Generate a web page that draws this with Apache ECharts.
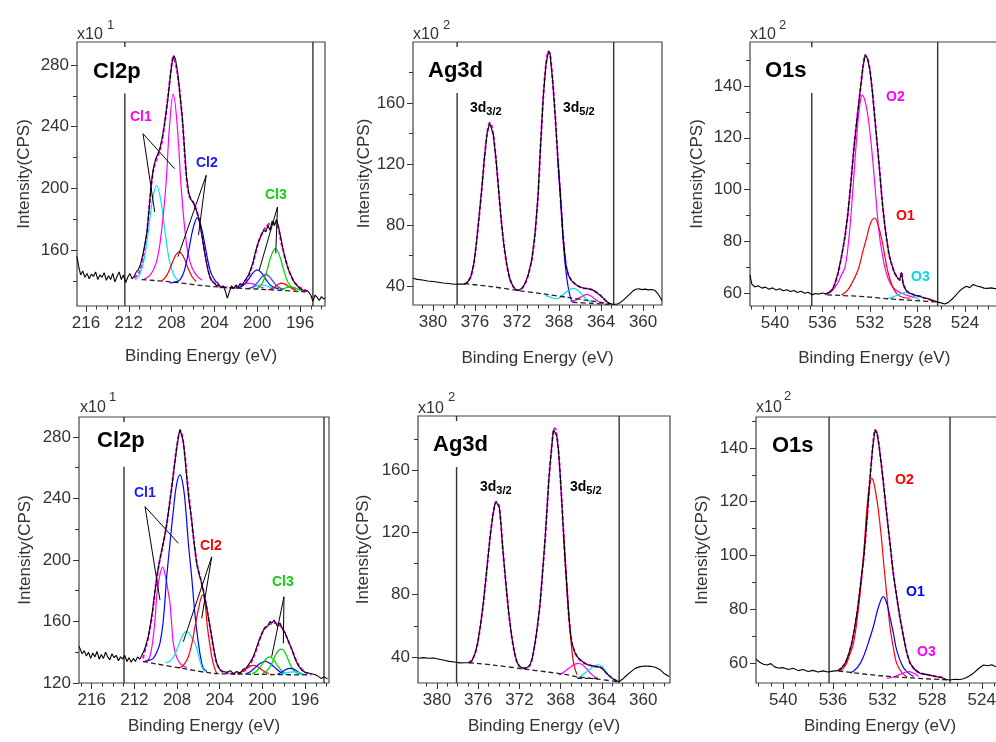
<!DOCTYPE html>
<html>
<head>
<meta charset="utf-8">
<script src="https://cdn.jsdelivr.net/npm/echarts@6/dist/echarts.min.js"></script>
<style>
html, body { margin: 0; padding: 0; background: #fff; }
#chart { width: 996px; height: 742px; }
</style>
</head>
<body>
<div id="chart"></div>
<script>
const MAG = '#ff00ff', CYA = '#00e5ee', RED = '#ff0000', BLU = '#0000ff', GRN = '#00d000'
const FONT = 'Liberation Sans, Arial, sans-serif'

// tick values
const clXMajor = [196, 200, 204, 208, 212, 216]
const clXMinor = [194, 195, 196, 197, 198, 199, 200, 201, 202, 203, 204, 205, 206, 207, 208, 209, 210, 211, 212, 213, 214, 215, 216, 217]
const agXMajor = [360, 364, 368, 372, 376, 380]
const agXMinor = [358, 359, 360, 361, 362, 363, 364, 365, 366, 367, 368, 369, 370, 371, 372, 373, 374, 375, 376, 377, 378, 379, 380, 381]
const oXMajor = [524, 528, 532, 536, 540]
const oXMinor = [521, 522, 523, 524, 525, 526, 527, 528, 529, 530, 531, 532, 533, 534, 535, 536, 537, 538, 539, 540, 541, 542]
const clTopYMajor = [160, 200, 240, 280]
const clBotYMajor = [120, 160, 200, 240, 280]
const clYMinor = [140, 180, 220, 260]
const agYMajor = [40, 80, 120, 160]
const agYMinor = [60, 100, 140, 180]
const oYMajor = [60, 80, 100, 120, 140]
const oYMinor = [70, 90, 110, 130, 150]

// ---- top row, Cl2p ----
const clTopRaw = [[216.84,156],[216.7,150],[216.5,144],[216.3,146.5],[216.1,142.5],[215.9,145],[215.7,141.5],[215.5,144.5],[215.3,143],[215.1,146],[214.9,141],[214.7,144],[214.5,142.5],[214.3,145.5],[214.1,140.5],[213.9,143.5],[213.7,141],[213.5,145],[213.3,139.5],[213.1,143],[212.9,146],[212.7,141],[212.5,144],[212.3,139],[212.1,142.5],[211.9,145],[211.7,141.5],[211.5,143],[211.3,146],[211.1,147.5],[210.9,151],[210.7,157],[210.5,164],[210.3,172],[210.1,187],[209.9,203],[209.7,213],[209.5,219],[209.3,222],[209.1,226],[208.9,232],[208.7,240],[208.5,250],[208.3,261],[208.1,274],[207.95,282],[207.8,286],[207.65,284],[207.5,278],[207.35,270],[207.2,259],[207.0,246],[206.8,226],[206.6,207],[206.4,197],[206.2,193],[206.0,191],[205.8,188],[205.6,184],[205.4,179],[205.2,171],[205.0,162],[204.8,154],[204.6,147],[204.4,142],[204.2,140],[204.0,138.5],[203.8,137],[203.6,138],[203.4,135.5],[203.2,137],[203.0,134],[202.8,129],[202.6,133],[202.4,137],[202.2,135],[202.0,137.5],[201.8,136],[201.6,138.5],[201.4,137],[201.2,140],[201.0,142],[200.8,144],[200.6,148],[200.4,152],[200.2,158],[200.0,163],[199.8,167],[199.6,170],[199.4,173],[199.2,172],[199.0,176],[198.8,173],[198.6,179],[198.4,176],[198.2,180],[198.0,175],[197.8,168],[197.6,161],[197.4,155],[197.2,150],[197.0,146],[196.8,143],[196.6,140],[196.4,138],[196.2,136.5],[196.0,135],[195.8,134.5],[195.6,133.5],[195.4,134],[195.2,133],[195.0,131],[194.8,127],[194.6,131],[194.4,129.5],[194.2,127.5],[194.0,130],[193.8,128.5],[193.67,129]]
const clTopFit = [[211.5,142],[211.0,146],[210.6,157],[210.3,172],[210.0,195],[209.7,212],[209.3,221],[209.0,227],[208.65,242],[208.35,259],[208.05,277],[207.85,285],[207.55,278],[207.25,263],[206.95,240],[206.65,210],[206.35,195],[205.9,190],[205.4,179],[205.1,167],[204.75,153],[204.3,141],[203.6,137],[203.0,136],[202.4,135.5],[201.8,136],[201.1,140],[200.5,149],[199.9,165],[199.3,174],[198.7,177.5],[198.2,177],[197.7,163],[197.1,148],[196.5,139],[195.8,135],[195.2,133]]
const clTopBase = [[210.8,141],[208,139.5],[205,137],[202,135.5],[199,134.5],[195.5,133]]
const clTopCl1a = [[210.55,141.3],[209.95,144.4],[209.45,151.7],[209.05,166.2],[208.55,200.3],[208.2,240],[207.85,261],[207.5,242.8],[207.1,200.3],[206.65,166.2],[206.25,151.7],[205.75,144.4],[205.15,140.5]]
const clTopCl1b = [[211.4,140.8],[211.0,144],[210.6,153],[210.2,171],[209.8,192],[209.4,202],[209.0,192],[208.6,171],[208.2,153],[207.8,144],[207.4,140.5]]
const clTopCl2a = [[208.9,140.2],[208.5,143.2],[208.1,149],[207.7,155.8],[207.3,159],[206.9,155.8],[206.5,149],[206.1,143],[205.7,139.8]]
const clTopCl2b = [[208.2,138.8],[207.6,139.5],[207.2,141],[206.8,147],[206.4,160],[206.0,174],[205.6,181],[205.2,174],[204.8,160],[204.4,147],[204.0,141],[203.6,138.3]]
const clTopBlue1 = [[202.0,135.6],[201.6,136.1],[201.2,137.9],[200.8,141.4],[200.4,145.4],[200.0,147.3],[199.6,145.3],[199.2,141.2],[198.8,137.6],[198.4,135.8],[198.0,135.2]]
const clTopBlue2 = [[200.95,135.1],[200.6,135.6],[200.25,137.0],[199.9,139.7],[199.55,142.9],[199.2,144.4],[198.85,142.8],[198.5,139.6],[198.15,136.8],[197.8,135.3],[197.45,134.8]]
const clTopGreen = [[200.2,134.9],[199.8,136.2],[199.43,140.1],[199.05,147.8],[198.68,156.8],[198.3,161],[197.93,156.7],[197.55,147.7],[197.18,140],[196.8,136],[196.43,134.6]]
const clTopRed = [[199.0,134.4],[198.68,135.1],[198.35,136.4],[198.03,138.0],[197.7,138.7],[197.38,137.9],[197.05,136.4],[196.73,135.1],[196.4,134.3]]
const clTopCyan = [[200.8,135.2],[200.3,136.3],[199.95,137.2],[199.6,137.6],[199.25,137.2],[198.9,136.3],[198.4,135.0]]
const clTopGreen2 = [[198.0,134.0],[197.5,135.1],[197.2,136.0],[196.9,136.3],[196.6,136.0],[196.3,135.0],[195.8,133.8]]
const clTopMag = [[202.2,135.9],[201.6,137.0],[201.2,138.2],[200.8,138.7],[200.4,138.2],[200.0,137.0],[199.4,135.5]]
const clTopLeads = [
  [[209.58,184.8],[210.67,235.4],[207.72,212.8]],
  [[207.41,155.8],[204.77,208.5],[205.49,169.8]],
  [[199.81,147.2],[198.11,188],[198.27,158]]
]
const clTopV = [[212.37,261.4,123.9],[212.37,294.8,291.6],[194.8,294.8,123.9]]

// ---- top row, Ag3d ----
const agTopRaw = [[381.9,45],[381.5,44.3],[381.0,43.9],[380.5,43.2],[380.0,42.9],[379.5,42.4],[379.0,41.9],[378.5,41.6],[378.0,41.1],[377.5,41.3],[377.0,41.2],[376.7,42.5],[376.4,46],[376.1,55],[375.85,69],[375.6,86],[375.35,104],[375.1,124],[374.85,140],[374.6,147],[374.45,146],[374.25,139],[374.0,123],[373.75,103],[373.5,83],[373.25,67],[373.0,55],[372.7,45],[372.4,40],[372.1,37.5],[371.8,37.2],[371.5,38.6],[371.2,42],[370.9,48],[370.6,57],[370.3,73],[370.0,99],[369.75,133],[369.5,164],[369.25,185],[369.0,194],[368.85,192],[368.6,174],[368.35,150],[368.1,122],[367.85,97],[367.6,71],[367.35,54],[367.1,47],[366.8,43.5],[366.5,41.5],[366.2,40],[365.9,39],[365.6,38.5],[365.3,38.2],[365.0,37.8],[364.7,37],[364.4,35.5],[364.1,34],[363.8,32],[363.5,30],[363.2,28.5],[362.9,28],[362.5,28],[362.2,29],[361.9,30.5],[361.6,32.5],[361.3,34.5],[361.0,36.5],[360.7,37.8],[360.4,38.2],[360.1,37.6],[359.8,37.9],[359.5,37.4],[359.2,37.7],[358.9,37.2],[358.6,35],[358.2,30.5]]
const agTopBase = [[377,41.5],[374.5,39.6],[371.7,36.8],[369.5,34.8],[367.2,32.5],[365,30.2],[363,28.2]]
const agTopBase2 = [[366.7,29.3],[365,28.6],[363.2,27.9]]
const agTopBlue = [[368.1,122],[367.85,97],[367.6,70],[367.35,50],[367.1,38],[366.9,32],[366.7,29.3]]
const agTopCyan = [[369.3,33.8],[368.9,32.8],[368.5,31.8],[368.2,31.6],[367.8,33],[367.4,35.5],[367.0,37.5],[366.65,38.4],[366.3,37.5],[365.9,35],[365.5,32],[365.1,30],[364.7,29.2]]
const agTopMag = [[366.9,29.8],[366.5,30.5],[366.1,32],[365.7,33.6],[365.35,34.5],[365.0,33.5],[364.6,31.5],[364.2,29.5],[363.8,28.3]]
const agTopV = [[377.7,166.5,27.5],[377.7,200,196.7],[362.8,200,27.5]]

// ---- top row, O1s ----
const oTopRaw = [[542.1,67],[541.95,63.5],[541.7,62.4],[541.4,62.8],[541.1,61.9],[540.8,62.3],[540.5,61.5],[540.2,62],[539.9,61.2],[539.6,61.7],[539.3,60.9],[539.0,61.3],[538.7,60.6],[538.4,61],[538.1,60.2],[537.8,60.7],[537.5,59.9],[537.2,60.3],[536.9,59.3],[536.6,59.8],[536.3,59.6],[536.0,60],[535.7,59.7],[535.4,60.4],[535.15,61.5],[534.95,63.7],[534.7,67.5],[534.4,74],[534.1,82],[533.85,91],[533.6,103],[533.35,116],[533.1,127],[532.85,137],[532.6,147],[532.4,152],[532.2,150.5],[532.0,146],[531.8,138],[531.6,128],[531.4,118],[531.2,108],[531.0,97],[530.8,88],[530.6,81],[530.4,75],[530.2,71.5],[529.95,68],[529.7,66],[529.5,65],[529.35,68],[529.2,63.5],[528.95,61],[528.7,60],[528.4,59.5],[528.1,59],[527.8,58.8],[527.5,58.2],[527.2,57.9],[526.9,57.4],[526.6,57],[526.3,56.5],[526.0,56.2],[525.7,55.8],[525.4,56.4],[525.1,57.6],[524.8,59],[524.5,60.6],[524.2,61.8],[523.9,62.6],[523.6,62.1],[523.3,63.3],[523.0,62.7],[522.7,62.4],[522.4,61.9],[522.1,61.8],[521.8,62],[521.5,61.7],[521.2,61.9],[520.9,61.5]]
const oTopBase = [[535.6,59.3],[532.4,58.6],[530.5,57.8],[526.4,56.6]]
const oTopO2 = [[535.8,59.3],[535.2,60.8],[534.7,64],[534.4,67],[534.1,70],[533.8,80],[533.55,93],[533.3,109],[533.1,121],[532.9,131],[532.65,136.5],[532.4,134],[532.1,126],[531.8,113],[531.5,97],[531.25,84],[531.0,76],[530.75,70],[530.5,66],[530.2,63],[529.9,61.5],[529.4,60],[528.8,59],[528.2,58.3]]
const oTopO1 = [[534.4,59.2],[533.9,61],[533.5,64],[533.0,69],[532.6,76],[532.3,81],[531.95,87],[531.6,89],[531.3,86],[531.0,80.5],[530.7,73],[530.45,67.5],[530.1,62.5],[529.7,59.5],[529.2,58.3],[528.6,58]]
const oTopO3 = [[530.5,57.9],[530.0,58.6],[529.5,59.6],[529.0,60.3],[528.6,59.8],[528.2,58.5],[527.8,57.3]]
const oTopV = [[536.9,137.3,55],[536.9,157,155],[526.3,157,55]]

// ---- bottom row, Cl2p ----
const clBotRaw = [[217.19,144],[216.9,139],[216.7,141],[216.5,137.5],[216.3,140],[216.1,136],[215.9,139.5],[215.7,137],[215.5,140.5],[215.3,135.5],[215.1,138.5],[214.9,136],[214.7,140],[214.5,137],[214.3,135],[214.1,139],[213.9,136.5],[213.7,138],[213.5,134.5],[213.3,137],[213.1,135.5],[212.9,138],[212.7,134],[212.5,136.5],[212.3,133.5],[212.1,136],[211.9,134],[211.7,137],[211.5,135.5],[211.3,138],[211.1,141],[210.9,145],[210.7,150],[210.5,158],[210.3,167],[210.1,178],[209.9,189],[209.7,197],[209.45,206],[209.2,214],[208.97,223],[208.75,234],[208.5,247],[208.25,261],[208.03,273],[207.85,281],[207.72,285],[207.6,282],[207.41,277],[207.25,266],[207.1,254],[206.9,240],[206.63,226],[206.4,211],[206.16,198],[205.9,190],[205.69,185],[205.45,177],[205.22,169],[205.0,160],[204.75,150],[204.5,140],[204.28,133],[204.0,129],[203.7,127.5],[203.35,127],[203.0,128],[202.7,126],[202.4,127.5],[202.1,126.3],[201.8,129],[201.5,130],[201.2,133],[200.85,137],[200.6,142],[200.3,148],[200.05,152],[199.8,156],[199.5,157],[199.3,160],[199.1,159],[198.9,161],[198.6,157],[198.35,159],[198.1,155],[197.9,153],[197.72,150],[197.5,146],[197.3,143],[197.1,139],[196.9,135],[196.6,131],[196.32,128.5],[196.0,127],[195.7,126.5],[195.4,126],[195.1,125.5],[194.8,124.5],[194.5,123],[194.2,124],[193.9,122.5]]
const clBotFit = [[211.2,136],[210.9,144],[210.6,153],[210.3,166],[210.0,183],[209.7,197],[209.4,207],[209.0,222],[208.7,237],[208.4,253],[208.1,270],[207.85,281],[207.7,284],[207.5,280],[207.25,267],[207.0,249],[206.7,230],[206.4,211],[206.1,196],[205.8,188],[205.5,179],[205.2,168],[204.9,156],[204.6,143],[204.3,133],[203.9,128],[203.3,126.5],[202.5,126],[201.8,127.5],[201.2,131.5],[200.6,141],[200.0,153],[199.4,158],[198.8,159],[198.3,157],[197.8,151],[197.2,141],[196.6,131.5],[196.0,127],[195.4,125.5]]
const clBotBase = [[211.2,134],[210,132.5],[207.5,129.5],[204.6,126.3],[202,125.8],[199,125.5],[195.5,125.2]]
const clBotCl1a = [[211.0,134.2],[210.5,135],[210.23,136],[209.9,140],[209.6,146],[209.3,160],[208.97,189],[208.66,211],[208.35,232],[208.05,249],[207.72,255.3],[207.4,247],[207.15,230],[206.94,211],[206.63,189],[206.3,163],[206.0,146],[205.75,135],[205.54,129.6],[205.2,127.5]]
const clBotCl1b = [[211.2,133.8],[210.7,135],[210.45,140],[210.23,150],[210.05,162],[209.91,176],[209.65,189],[209.35,195.3],[209.05,188],[208.85,180],[208.66,171.8],[208.5,158],[208.35,145.8],[208.05,137],[207.72,132.8],[207.4,131],[207.1,130]]
const clBotCl2a = [[209.1,133],[208.6,134.6],[208.3,137.5],[208.03,141.5],[207.7,147.5],[207.4,152],[207.1,153.4],[206.8,151.5],[206.55,148.5],[206.32,145.8],[206.0,138.5],[205.69,130.6],[205.4,127.5]]
const clBotCl2b = [[207.9,130],[207.56,130.6],[207.25,133],[206.94,137.1],[206.6,146],[206.32,156.6],[206.0,168],[205.75,175.5],[205.6,177.2],[205.4,173],[205.16,156.6],[204.95,146],[204.75,137.1],[204.5,130],[204.28,126.3]]
const clBotGreen1 = [[200.0,126],[199.5,128.5],[199.1,133],[198.75,138.5],[198.45,141.5],[198.2,142],[197.9,140],[197.6,135.5],[197.25,130],[196.9,127],[196.4,125.5]]
const clBotGreen2 = [[201.0,126],[200.5,128],[200.1,131.5],[199.7,135.3],[199.35,137],[199.0,135.5],[198.6,131.5],[198.2,128],[197.8,126]]
const clBotBlue1 = [[201.6,126],[201.1,127.5],[200.6,130.5],[200.15,133],[199.76,134],[199.35,133],[198.9,130.5],[198.4,127.5],[197.9,126]]
const clBotBlue2 = [[198.6,125.8],[198.2,127],[197.8,128.8],[197.4,129.5],[197.0,128.8],[196.6,127],[196.2,125.8]]
const clBotRed = [[202.3,126],[201.8,127.8],[201.3,130.3],[200.85,131.5],[200.4,130.3],[199.9,127.8],[199.4,126]]
const clBotCyan = [[198.3,125.6],[197.8,126.4],[197.4,127.1],[197.1,127.3],[196.7,127],[196.3,126],[195.9,125.3]]
const clBotLeads = [
  [[209.6,174],[211.0,234.7],[207.88,210.9]],
  [[207.41,146.9],[204.75,202.1],[205.69,162.1]],
  [[199.13,137.1],[197.98,176.1],[198.04,145.8]]
]
const clBotV = [[212.97,260.7,120],[212.97,293,289.7],[194.23,293,120]]

// ---- bottom row, Ag3d ----
const agBotRaw = [[381.84,39.2],[381.3,39.6],[380.8,39.2],[380.3,39.3],[379.8,38.6],[379.3,37.9],[378.8,37.2],[378.3,36.8],[377.8,36.2],[377.3,36.3],[376.9,36.3],[376.6,37.8],[376.3,42.4],[376.05,49],[375.8,59.5],[375.55,72],[375.3,87.3],[375.05,104],[374.85,117],[374.6,130],[374.4,137.5],[374.27,139.6],[374.1,139],[373.95,136],[373.8,126],[373.66,113],[373.45,97],[373.23,81],[373.0,66],[372.75,53],[372.5,43.5],[372.26,37],[372.0,34],[371.62,32.7],[371.3,33],[370.97,34.8],[370.75,39.5],[370.49,48.8],[370.25,60],[370.0,74.5],[369.75,95],[369.5,117],[369.3,138],[369.13,155.7],[368.9,173],[368.7,185.8],[368.54,186.8],[368.38,182],[368.22,173],[368.05,157],[367.89,139],[367.73,120],[367.57,102],[367.4,85],[367.25,70],[367.1,58],[366.92,49],[366.6,42.5],[366.28,39.2],[365.8,36.5],[365.31,34.9],[364.9,34.3],[364.5,33.8],[364.2,33.5],[364.0,32.8],[363.7,30.6],[363.37,28.4],[362.9,25.8],[362.4,24.1],[362.05,25.5],[361.75,27.3],[361.3,30],[360.78,32.7],[360.3,33.8],[359.81,34.2],[359.3,34],[358.84,33.4],[358.4,32],[358.0,29.6],[357.5,27.5]]
const agBotBase = [[376.9,36.3],[374.5,34.8],[371.6,32.3],[369.2,30.3],[367.6,28.8],[366.4,27.3],[364.4,25.8],[362.4,24.1]]
const agBotBase2 = [[366.4,26.3],[364.4,26.2]]
const agBotRed = [[367.73,120],[367.5,95],[367.25,70],[367.0,50],[366.8,38],[366.6,32],[366.4,28.6]]
const agBotMag = [[368.2,28.4],[367.8,29.8],[367.4,31.8],[367.0,33.8],[366.6,35.4],[366.28,35.9],[365.9,35],[365.5,32.5],[365.1,29.5],[364.7,27.2],[364.4,26.3]]
const agBotCyan = [[366.45,26.3],[366.0,28],[365.5,30.5],[365.0,33],[364.6,34.6],[364.3,35],[364.0,34],[363.7,31.5],[363.4,28.6],[363.0,26]]
const agBotV = [[378.1,162,23.3],[378.1,194.7,191.5],[362.33,194.7,23.3]]

// ---- bottom row, O1s ----
const oBotRaw = [[542.2,61.5],[541.9,60.3],[541.6,59.6],[541.3,59.3],[541.0,59.8],[540.7,58.6],[540.4,58.2],[540.0,58.3],[539.6,57.6],[539.2,58.1],[538.8,57.2],[538.4,57.6],[538.0,56.9],[537.6,57.3],[537.2,56.7],[536.8,57.1],[536.4,56.7],[536.0,57.0],[535.6,57.2],[535.3,58.2],[535.0,60],[534.75,63],[534.5,67],[534.25,73],[534.0,80.5],[533.75,90],[533.5,100],[533.25,114],[533.0,129.3],[532.8,140],[532.6,146.7],[532.45,145.5],[532.3,141.5],[532.1,134],[531.93,127],[531.7,117],[531.4,104.5],[531.15,94],[530.86,84.7],[530.6,77],[530.32,70],[530.05,64],[529.78,60],[529.4,57.6],[528.97,56.2],[528.5,55.8],[528.0,55.3],[527.6,54.9],[527.2,54.6],[526.9,53.9],[526.56,53.7],[526.2,54],[525.75,53.9],[525.4,54.3],[525.0,55.2],[524.68,56.2],[524.3,57.8],[523.87,59.3],[523.5,59.0],[523.2,59.4],[522.85,58.6],[522.5,58.3],[522.1,58.8],[521.7,58.5],[521.3,58]]
const oBotBase = [[535.56,57.1],[531.93,55.2],[526.56,53.7]]
const oBotO2 = [[535.5,56.8],[535.0,59],[534.7,62.5],[534.35,67.3],[534.0,78],[533.68,92],[533.45,105],[533.27,117],[533.05,126],[532.87,128.7],[532.7,127],[532.5,122],[532.34,117],[532.1,107],[531.93,98.3],[531.65,85],[531.4,73.5],[531.1,65],[530.86,59.9],[530.45,56.5],[530.05,54.9]]
const oBotO1 = [[534.6,56.2],[534.0,58.5],[533.55,62.3],[533.15,67.5],[532.74,73.5],[532.35,80.5],[531.93,84.7],[531.65,82],[531.4,77.2],[531.1,70.5],[530.86,64.8],[530.45,59.5],[530.05,56.8],[529.5,55]]
const oBotO3 = [[531.66,54.3],[531.0,55],[530.4,56.2],[529.92,56.8],[529.5,56.2],[529.1,55]]
const oBotV = [[536.31,151.5,52.6],[526.56,151.5,52.6]]

function within(raw, lo, hi) {
  return raw.filter(p => p[0] >= lo && p[0] <= hi)
}

const panels = [
  {
    box: { left: 77, top: 42, width: 248, height: 264 }, x: [193.67, 216.84], y: [123.9, 294.8],
    xMajor: clXMajor, xMinor: clXMinor, yMajor: clTopYMajor, yMinor: clYMinor, yGap: 44, xGap: 42, xPad: 0,
    raw: clTopRaw, fit: clTopFit, base: [clTopBase],
    comps: [[clTopCl1b, CYA], [clTopCl1a, MAG], [clTopCl2a, RED], [clTopCl2b, BLU], [clTopMag, MAG], [clTopCyan, CYA],
      [clTopBlue1, BLU], [clTopBlue2, '#3a3aff'], [clTopGreen, GRN], [clTopRed, RED], [clTopGreen2, GRN]],
    leads: clTopLeads, vlines: clTopV
  },
  {
    box: { left: 413, top: 42, width: 249, height: 263 }, x: [358.2, 381.9], y: [27.5, 200],
    xMajor: agXMajor, xMinor: agXMinor, yMajor: agYMajor, yMinor: agYMinor, yGap: 40, xGap: 45, xPad: 0,
    raw: agTopRaw, fit: within(agTopRaw, 363, 377), base: [agTopBase, agTopBase2],
    comps: [[agTopBlue, BLU], [agTopCyan, CYA], [agTopMag, MAG]],
    leads: [], vlines: agTopV
  },
  {
    box: { left: 750, top: 42, width: 262.5, height: 264 }, x: [520, 542.1], y: [55, 157],
    xMajor: oXMajor, xMinor: oXMinor, yMajor: oYMajor, yMinor: oYMinor, yGap: 44, xGap: 44, xPad: 14,
    raw: oTopRaw, fit: within(oTopRaw, 526.4, 535.6), base: [oTopBase],
    comps: [[oTopO2, MAG], [oTopO1, RED], [oTopO3, CYA]],
    leads: [], vlines: oTopV
  },
  {
    box: { left: 79, top: 417, width: 250, height: 266 }, x: [193.76, 217.19], y: [120, 293],
    xMajor: clXMajor, xMinor: clXMinor, yMajor: clBotYMajor, yMinor: clYMinor, yGap: 45, xGap: 35, xPad: 0,
    raw: clBotRaw, fit: clBotFit, base: [clBotBase],
    comps: [[clBotCl1b, MAG], [clBotCl1a, BLU], [clBotCl2a, CYA], [clBotCl2b, RED], [clBotRed, RED], [clBotBlue1, BLU],
      [clBotGreen2, GRN], [clBotGreen1, GRN], [clBotBlue2, BLU], [clBotCyan, CYA]],
    leads: clBotLeads, vlines: clBotV
  },
  {
    box: { left: 418, top: 416, width: 252, height: 267 }, x: [357.4, 381.84], y: [23.3, 194.7],
    xMajor: agXMajor, xMinor: agXMinor, yMajor: agYMajor, yMinor: agYMinor, yGap: 46, xGap: 35, xPad: 0,
    raw: agBotRaw, fit: within(agBotRaw, 362.4, 376.9), base: [agBotBase, agBotBase2],
    comps: [[agBotRed, RED], [agBotMag, MAG], [agBotCyan, CYA]],
    leads: [], vlines: agBotV
  },
  {
    box: { left: 756, top: 417, width: 263, height: 266 }, x: [521, 542.2], y: [52.6, 151.5],
    xMajor: oXMajor, xMinor: oXMinor, yMajor: oYMajor, yMinor: oYMinor, yGap: 45, xGap: 35, xPad: 15,
    raw: oBotRaw, fit: within(oBotRaw, 526.6, 535.6), base: [oBotBase],
    comps: [[oBotO2, RED], [oBotO1, BLU], [oBotO3, MAG]],
    leads: [], vlines: oBotV
  }
]

const labelStyle = { color: '#333', fontSize: 17, fontFamily: FONT }
const grids = [], xAxes = [], yAxes = [], series = []

function line(i, data, color, width, extra) {
  return Object.assign({
    type: 'line', xAxisIndex: i * 2, yAxisIndex: i * 2, data: data, clip: true,
    symbol: 'none', showSymbol: false, silent: true, animation: false, color: color,
    itemStyle: { color: color }, lineStyle: { color: color, width: width }
  }, extra || {})
}

panels.forEach((p, i) => {
  grids.push(Object.assign({ show: true, borderColor: '#444', borderWidth: 1.2, containLabel: false, outerBoundsMode: 'none' }, p.box))
  xAxes.push({
    gridIndex: i, type: 'value', inverse: true, min: p.x[0], max: p.x[1], position: 'bottom',
    axisLine: { show: false },
    axisTick: { show: true, length: 6, customValues: p.xMajor, lineStyle: { color: '#333' } },
    axisLabel: Object.assign({ customValues: p.xMajor, margin: 9 }, labelStyle),
    splitLine: { show: false },
    name: 'Binding Energy (eV)', nameLocation: 'middle', nameGap: p.xGap,
    nameTextStyle: Object.assign({ padding: [0, p.xPad, 0, 0] }, labelStyle)
  })
  xAxes.push({
    gridIndex: i, type: 'value', inverse: true, min: p.x[0], max: p.x[1], position: 'bottom',
    axisLine: { show: false },
    axisTick: { show: true, length: 3.5, customValues: p.xMinor, lineStyle: { color: '#333' } },
    axisLabel: { show: false }, splitLine: { show: false }
  })
  yAxes.push({
    gridIndex: i, type: 'value', min: p.y[0], max: p.y[1], position: 'left',
    axisLine: { show: false },
    axisTick: { show: true, length: 6, customValues: p.yMajor, lineStyle: { color: '#333' } },
    axisLabel: Object.assign({ customValues: p.yMajor, margin: 8 }, labelStyle),
    splitLine: { show: false },
    name: 'Intensity(CPS)', nameLocation: 'middle', nameGap: p.yGap, nameRotate: 90,
    nameTextStyle: labelStyle
  })
  yAxes.push({
    gridIndex: i, type: 'value', min: p.y[0], max: p.y[1], position: 'left',
    axisLine: { show: false },
    axisTick: { show: true, length: 4, customValues: p.yMinor, lineStyle: { color: '#333' } },
    axisLabel: { show: false }, splitLine: { show: false }
  })

  p.vlines.forEach(v => {
    series.push(line(i, [[v[0], v[1]], [v[0], v[2]]], '#333', 1.4, { z: 2 }))
  })
  const fit = line(i, p.fit, MAG, 2, { smooth: 0.3, z: 3 })
  fit.lineStyle.type = [4, 2]
  series.push(fit)
  p.comps.forEach(c => {
    series.push(line(i, c[0], c[1], 1.2, { smooth: 0.4, z: 4 }))
  })
  p.base.forEach(b => {
    const s = line(i, b, '#222', 1.3, { smooth: 0.3, z: 4 })
    s.lineStyle.type = [5, 3]
    series.push(s)
  })
  series.push(line(i, p.raw, '#000', 1.1, { z: 10 }))
  p.leads.forEach(l => {
    series.push(line(i, l, '#000', 1, { z: 6 }))
  })
})

// texts: [text, x, y, size, color, bold]
const notes = [
  ['Cl2p', 93, 72, 22, '#000', true], ['Ag3d', 428, 71, 22, '#000', true], ['O1s', 765, 71, 22, '#000', true],
  ['Cl2p', 97, 441, 22, '#000', true], ['Ag3d', 433, 445, 22, '#000', true], ['O1s', 772, 446, 22, '#000', true],
  ['Cl1', 130, 117, 14, MAG, true], ['Cl2', 196, 163, 14, '#1a1aff', true], ['Cl3', 265, 195, 14, '#10d010', true],
  ['Cl1', 134, 493, 14, '#1a1aff', true], ['Cl2', 200, 546, 14, RED, true], ['Cl3', 272, 582, 14, '#10d010', true],
  ['O2', 886, 97, 14, MAG, true], ['O1', 896, 216, 14, RED, true], ['O3', 911, 277, 14, '#00d8e8', true],
  ['O2', 895, 480, 14, RED, true], ['O1', 906, 592, 14, BLU, true], ['O3', 917, 652, 14, MAG, true],
  ['x10', 77, 35, 16, '#333', false], ['x10', 413, 35, 16, '#333', false], ['x10', 750, 35, 16, '#333', false],
  ['x10', 80, 408, 16, '#333', false], ['x10', 418, 409, 16, '#333', false], ['x10', 756, 408, 16, '#333', false],
  ['1', 107, 25, 13, '#333', false], ['2', 443, 25, 13, '#333', false], ['2', 779, 25, 13, '#333', false],
  ['1', 109, 397, 13, '#333', false], ['2', 448, 397, 13, '#333', false], ['2', 784, 396, 13, '#333', false]
]
const subs = [[470, 108], [563, 108], [480, 487], [570, 487]]

const graphic = notes.map(n => ({
  type: 'text', x: n[1], y: n[2], silent: true,
  style: { text: n[0], fontSize: n[3], fill: n[4], fontWeight: n[5] ? 'bold' : 'normal', fontFamily: FONT, align: 'left', verticalAlign: 'middle' }
}))
subs.forEach((s, k) => {
  graphic.push({
    type: 'text', x: s[0], y: s[1], silent: true,
    style: {
      text: k % 2 === 0 ? '{a|3d}{b|3/2}' : '{a|3d}{b|5/2}', align: 'left', verticalAlign: 'middle',
      rich: {
        a: { fontSize: 14, fontWeight: 'bold', fill: '#000', fontFamily: FONT, lineHeight: 18, verticalAlign: 'middle' },
        b: { fontSize: 11, fontWeight: 'bold', fill: '#000', fontFamily: FONT, lineHeight: 18, verticalAlign: 'bottom', padding: [5, 0, 0, 0] }
      }
    }
  })
})

const chart = echarts.init(document.getElementById('chart'))
chart.setOption({
  animation: false,
  backgroundColor: '#fff',
  grid: grids,
  xAxis: xAxes,
  yAxis: yAxes,
  series: series,
  graphic: graphic
})
</script>
</body>
</html>
